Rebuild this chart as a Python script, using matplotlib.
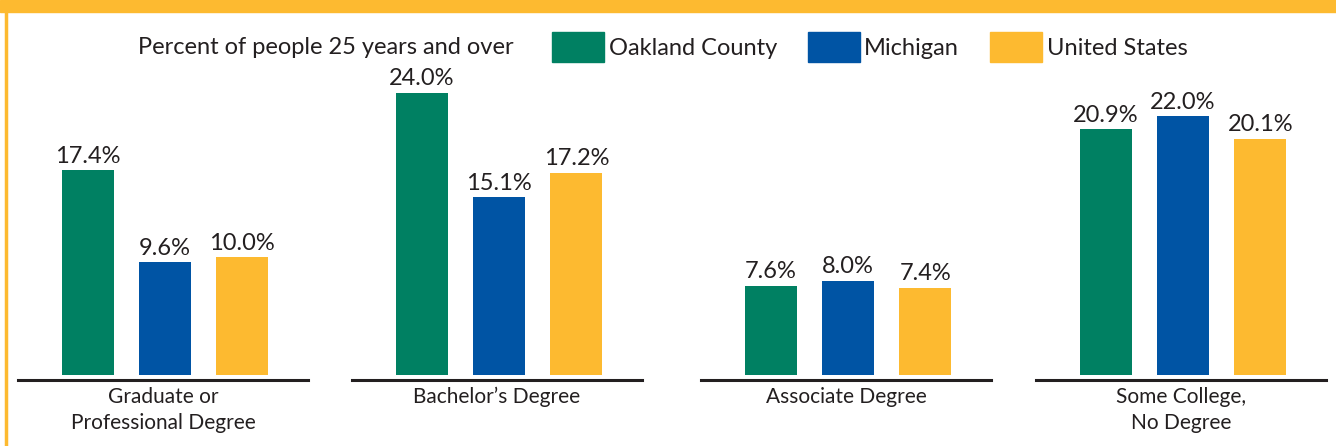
import matplotlib.pyplot as plt
from matplotlib.patches import Patch, Rectangle
from matplotlib.lines import Line2D

categories = ["Graduate or\nProfessional Degree", "Bachelor\u2019s Degree",
              "Associate Degree", "Some College,\nNo Degree"]
series = ["Oakland County", "Michigan", "United States"]
oakland = [17.4, 24.0, 7.6, 20.9]
michigan = [9.6, 15.1, 8.0, 22.0]
united_states = [10.0, 17.2, 7.4, 20.1]
legend_title = "Percent of people 25 years and over"

colors = ["#008062", "#0054A4", "#FDBA30"]
text_color = "#231F20"
W, H = 1336, 446

plt.rcParams['font.family'] = ['Lato', 'DejaVu Sans']

fig = plt.figure(figsize=(W / 100, H / 100), dpi=100)

# frame: yellow band on top, thin rule on the left
fig.patches.append(Rectangle((0, 1 - 12 / H), 1, 12 / H, transform=fig.transFigure,
                             color=colors[2], zorder=0))
fig.lines.append(Line2D([5.5 / W, 5.5 / W], [0, 1 - 12 / H], transform=fig.transFigure,
                        color=colors[2], lw=2.5))

# axes placement in pixels: left edge of each baseline
lefts = [18, 352, 701, 1036]
ax_w = 290
base_y = 380
ymin, ymax = -0.43, 26
px_per_unit = 11.76
ax_h = (ymax - ymin) * px_per_unit

values = list(zip(oakland, michigan, united_states))

for i, cat in enumerate(categories):
    ax = fig.add_axes([lefts[i] / W, (H - base_y) / H, ax_w / W, ax_h / H])
    ax.set_xlim(-0.9, 2.85)
    ax.set_ylim(ymin, ymax)
    vals = values[i]
    bars = ax.bar(range(3), vals, width=0.67, color=colors)
    for b, v in zip(bars, vals):
        ax.annotate(f"{v:.1f}%", (b.get_x() + b.get_width() / 2, v),
                    xytext=(0, 2.5), textcoords="offset points",
                    ha="center", va="bottom", fontsize=17, color=text_color)
    for s in ["top", "left", "right"]:
        ax.spines[s].set_visible(False)
    ax.spines["bottom"].set_linewidth(2.2)
    ax.spines["bottom"].set_color("#231F20")
    ax.set_xticks([])
    ax.set_yticks([])
    ax.patch.set_alpha(0)
    ax.text(0.5, -0.022, cat, transform=ax.transAxes, ha="center", va="top",
            fontsize=15, color=text_color, linespacing=1.4)

fig.text(138 / W, 1 - 47 / H, legend_title, ha="left", va="center",
         fontsize=17, color=text_color)
handles = [Patch(color=c) for c in colors]
fig.legend(handles, series, loc="center left", bbox_to_anchor=(552 / W, 1 - 47 / H),
           ncol=3, frameon=False, fontsize=17, handlelength=2.2, handleheight=1.55,
           handletextpad=0.2, columnspacing=1.3, borderpad=0, borderaxespad=0,
           labelcolor=text_color)

fig.savefig("out.png", dpi=100, facecolor="white")
